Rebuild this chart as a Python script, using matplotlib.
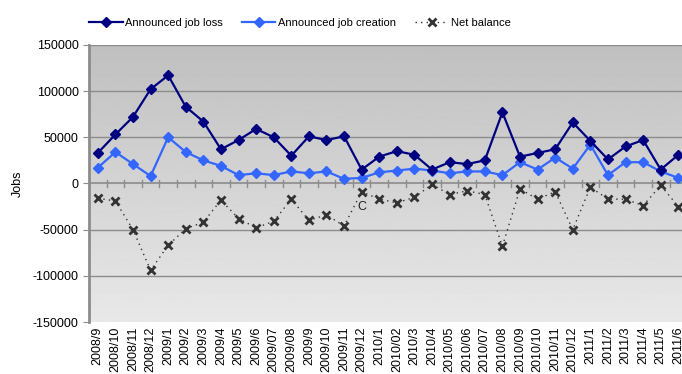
import numpy as np
import matplotlib
matplotlib.use("Agg")
import matplotlib.pyplot as plt

plt.rcParams['font.family'] = ['Liberation Sans', 'DejaVu Sans']

months = ['2008/9', '2008/10', '2008/11', '2008/12', '2009/1', '2009/2', '2009/3',
          '2009/4', '2009/5', '2009/6', '2009/07', '2009/08', '2009/9', '2009/10',
          '2009/11', '2009/12', '2010/1', '2010/02', '2010/3', '2010/4', '2010/05',
          '2010/06', '2010/07', '2010/08', '2010/09', '2010/10', '2010/11', '2010/12',
          '2011/1', '2011/2', '2011/3', '2011/4', '2011/5', '2011/6']

job_loss = [33000, 53000, 72000, 102000, 117000, 83000, 67000, 37000, 47000, 59000,
            50000, 30000, 51000, 47000, 51000, 15000, 29000, 35000, 31000, 15000,
            23000, 21000, 25000, 77000, 29000, 33000, 37000, 66000, 46000, 26000,
            40000, 47000, 15000, 31000]

job_creation = [17000, 34000, 21000, 8000, 50000, 34000, 25000, 19000, 9000, 11000,
                9000, 13000, 11000, 13000, 5000, 6000, 12000, 14000, 16000, 14000,
                11000, 13000, 13000, 9000, 23000, 15000, 28000, 16000, 42000, 9000,
                23000, 23000, 13000, 6000]

net_balance = [-16000, -19000, -50000, -94000, -67000, -49000, -42000, -18000, -38000,
               -48000, -41000, -17000, -40000, -34000, -46000, -9000, -17000, -21000,
               -15000, -1000, -12000, -8000, -12000, -68000, -6000, -17000, -9000,
               -50000, -4000, -17000, -17000, -24000, -2000, -25000]

n = len(months)
x = np.arange(n)

fig = plt.figure(figsize=(6.82, 3.74), dpi=100)
ax = fig.add_axes([0.1305, 0.139, 0.877, 0.741])

# grey gradient background, darker at the top
grad = np.linspace(0.91, 0.75, 256).reshape(-1, 1)
ax.imshow(grad, cmap='gray', vmin=0, vmax=1, aspect='auto',
          extent=[-0.5, n - 0.5, -150000, 150000], origin='lower', zorder=0)

ax.set_xlim(-0.5, n - 0.5)
ax.set_ylim(-150000, 150000)
ax.set_yticks(np.arange(-150000, 150001, 50000))
ax.set_yticklabels([str(v) for v in range(-150000, 150001, 50000)], fontsize=9)
for v in range(-100000, 150001, 50000):
    if v != 0:
        ax.axhline(v, color='#8c8c8c', lw=1, zorder=1)
ax.axhline(0, color='#8c8c8c', lw=1.2, zorder=1)
# category ticks crossing the zero line
for b in np.arange(0.5, n, 1):
    ax.plot([b, b], [-4000, 4000], color='#8c8c8c', lw=1, zorder=1)

l1, = ax.plot(x, job_loss, color='#000080', lw=1.6, marker='D', ms=5.5, zorder=4,
              label='Announced job loss')
l2, = ax.plot(x, job_creation, color='#3366ff', lw=1.6, marker='D', ms=5.5, zorder=3,
              label='Announced job creation')
l3, = ax.plot(x, net_balance, color='#333333', lw=1, ls=(0, (1, 3)), marker='x', ms=5.5,
              mew=2, zorder=3, label='Net balance')

ax.text(15, -26000, 'C', fontsize=9, ha='center', va='center', color='#222222')

ax.set_xticks(x)
ax.set_xticklabels(months, rotation=90, fontsize=9, va='top')
ax.tick_params(axis='x', length=0, pad=3)
ax.tick_params(axis='y', length=4, color='#8c8c8c')
ax.set_ylabel('Jobs', fontsize=9, labelpad=6)

for s in ['top', 'right', 'bottom']:
    ax.spines[s].set_visible(False)
ax.spines['left'].set_color('#8c8c8c')
ax.spines['left'].set_linewidth(2)

fig.legend(handles=[l1, l2, l3], loc='center', bbox_to_anchor=(0.44, 0.938),
           ncol=3, frameon=False, fontsize=8, handlelength=3.0, columnspacing=1.7,
           handletextpad=0.25)

fig.savefig('out.png', dpi=100)
